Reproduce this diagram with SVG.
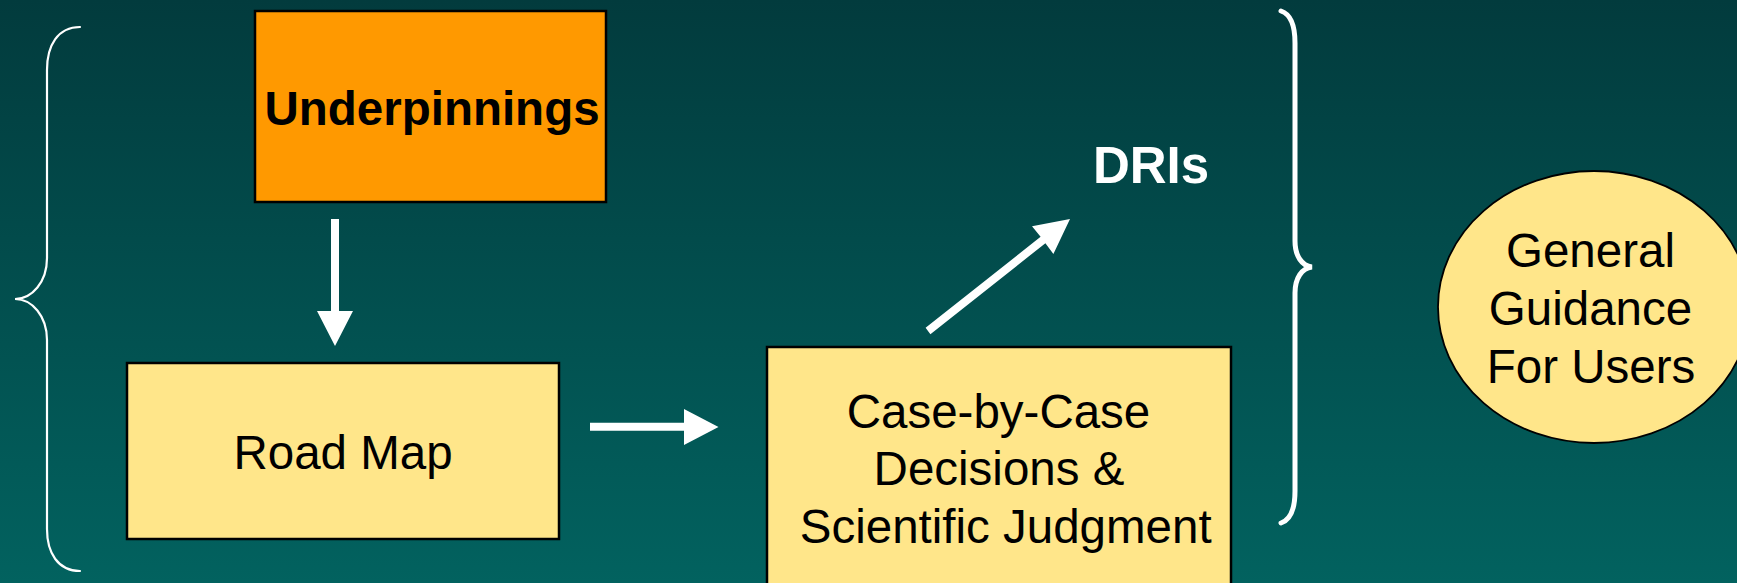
<svg xmlns="http://www.w3.org/2000/svg" width="1737" height="583" viewBox="0 0 1737 583">
<defs>
<linearGradient id="bg" x1="0" y1="0" x2="0" y2="1">
<stop offset="0" stop-color="#023B3D"/>
<stop offset="1" stop-color="#02625F"/>
</linearGradient>
<style>
.t{font-family:"Liberation Sans",Arial,Helvetica,sans-serif;font-size:47.5px;fill:#000;text-anchor:middle}
.b{font-weight:bold}
.box{stroke:#000;stroke-width:2.5}
.y{fill:#FFE68A}
.arr{fill:#FFFFFF;stroke:none}
.brace{fill:none;stroke:#FFFFFF;stroke-linecap:round;stroke-linejoin:miter}
</style>
</defs>
<rect x="0" y="0" width="1737" height="583" fill="url(#bg)"/>

<g id="left-brace">
<path class="brace" stroke-width="2.2" d="M80,27 C58,27 47,45 47,70 L47,258 C47,282 32,299 15,299 C32,299 47,316 47,340 L47,529 C47,553 58,571 80,571"/>
</g>
<g id="right-brace">
<path class="brace" stroke-width="5" d="M1281,11 C1290,14 1295,25 1295,43 L1295,241 C1295,256 1302,266 1312,267 C1302,268 1295,278 1295,293 L1295,491 C1295,509 1290,520 1281,523"/>
</g>

<g id="underpinnings">
<rect class="box" x="255" y="11" width="351" height="191" fill="#FF9900"/>
<text class="t b" x="432" y="125">Underpinnings</text>
</g>

<g id="road-map">
<rect class="box y" x="127" y="363" width="432" height="176"/>
<text class="t" x="343" y="469">Road Map</text>
</g>

<g id="case-by-case">
<rect class="box y" x="767" y="347" width="464" height="250"/>
<text class="t" x="998.5" y="427.7">Case-by-Case</text>
<text class="t" x="999" y="485">Decisions &amp;</text>
<text class="t" x="1005.7" y="542.7">Scientific Judgment</text>
</g>

<g id="dris">
<text class="t b" x="1151" y="183.3" font-size="51" style="font-size:51px;fill:#FFFFFF">DRIs</text>
</g>

<g id="general-guidance">
<ellipse cx="1594" cy="307" rx="156" ry="136" fill="#FFE68A" stroke="#000" stroke-width="1.8"/>
<text class="t" x="1590.5" y="267.3">General</text>
<text class="t" x="1590.5" y="325">Guidance</text>
<text class="t" x="1591" y="382.7">For Users</text>
</g>

<g id="connectors">
<polygon class="arr" points="331,219 339,219 339,311 353,311 335,346 317,311 331,311"/>
<polygon class="arr" points="590,422.7 684,422.7 684,409 718.5,427 684,445 684,430.7 590,430.7"/>
<polygon class="arr" points="925.6,327.8 1040.6,236.8 1032,226.3 1070,219 1053.4,253.9 1045.4,243.2 930.4,334.2"/>
</g>
</svg>
